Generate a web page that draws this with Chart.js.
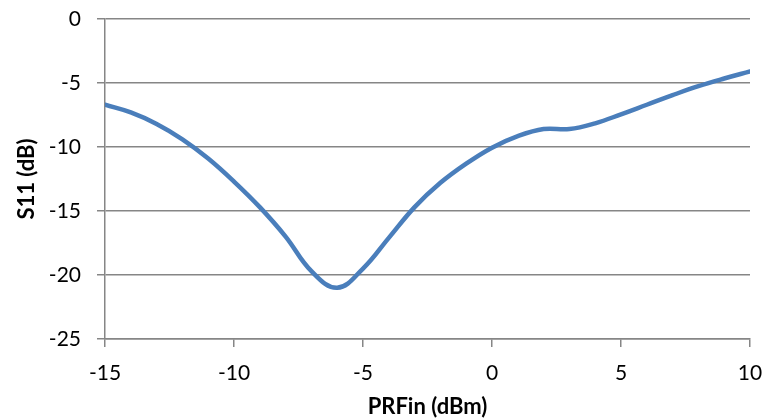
<!DOCTYPE html>
<html>
<head>
<meta charset="utf-8">
<script src="https://cdn.jsdelivr.net/npm/chart.js@4"></script>
<style>
  html, body { margin: 0; padding: 0; background: #fff; }
  #wrap { width: 764px; height: 420px; }
</style>
</head>
<body>
<div id="wrap"><canvas id="miGrafico" width="764" height="420"></canvas></div>
<script>
// valores
const prfin = [-15, -14, -13, -12, -11, -10, -9, -8, -7, -6, -5, -4, -3, -2, -1, 0, 1, 2, 3, 4, 5, 6, 7, 8, 9, 10];
const s11 = [-6.7, -7.3, -8.2, -9.4, -10.9, -12.7, -14.7, -17.0, -19.7, -21.0, -19.5, -17.1, -14.7, -12.8, -11.3, -10.05, -9.15, -8.6, -8.6, -8.15, -7.45, -6.7, -5.95, -5.25, -4.65, -4.1];
const ticksX = [-15, -10, -5, 0, 5, 10];
const ticksY = [-25, -20, -15, -10, -5, 0];

const gris = "#868686";
const fuente = "Lato, 'Open Sans', sans-serif";

const puntos = prfin.map((x, i) => ({ x: x, y: s11[i] }));

// el layout lo fijamos a mano para que coincida con el original
function sinPadding(scale) {
  scale.paddingTop = 0;
  scale.paddingBottom = 0;
  scale.paddingLeft = 0;
  scale.paddingRight = 0;
}

const ctx = document.getElementById("miGrafico").getContext("2d");

new Chart(ctx, {
  type: "line",
  data: {
    datasets: [
      {
        label: "S11",
        data: puntos,
        borderColor: "#4a7ebb",
        borderWidth: 4.5,
        borderCapStyle: "round",
        borderJoinStyle: "round",
        pointRadius: 0,
        tension: 0.4,
        fill: false,
      },
    ],
  },
  options: {
    responsive: false,
    animation: false,
    layout: { padding: { top: 19, right: 14, left: 0, bottom: 0 } },
    plugins: { legend: { display: false }, tooltip: { enabled: false } },
    scales: {
      x: {
        type: "linear",
        min: -15,
        max: 10,
        afterBuildTicks: (scale) => {
          scale.ticks = ticksX.map((v) => ({ value: v }));
        },
        afterFit: (scale) => {
          scale.height = 81;
          sinPadding(scale);
        },
        grid: {
          drawOnChartArea: false,
          drawTicks: true,
          tickLength: 8,
          color: gris,
          lineWidth: 1.5,
        },
        border: { color: gris, width: 1.5 },
        ticks: {
          color: "#000",
          padding: 14,
          maxRotation: 0,
          font: { family: fuente, size: 21 },
        },
        title: {
          display: true,
          text: "PRFin (dBm)",
          color: "#000",
          padding: { top: 0, bottom: 0 },
          font: { family: fuente, size: 22, weight: "bold" },
        },
      },
      y: {
        type: "linear",
        min: -25,
        max: 0,
        afterBuildTicks: (scale) => {
          scale.ticks = ticksY.map((v) => ({ value: v }));
        },
        afterFit: (scale) => {
          scale.width = 105;
          sinPadding(scale);
        },
        grid: {
          drawTicks: true,
          tickLength: 8,
          color: gris,
          lineWidth: 1.5,
        },
        border: { color: gris, width: 1.5 },
        ticks: {
          color: "#000",
          padding: 16,
          font: { family: fuente, size: 21 },
        },
        title: {
          display: true,
          text: "S11 (dB)",
          color: "#000",
          padding: { top: 14, bottom: 0 },
          font: { family: fuente, size: 22, weight: "bold" },
        },
      },
    },
  },
});
</script>
</body>
</html>
